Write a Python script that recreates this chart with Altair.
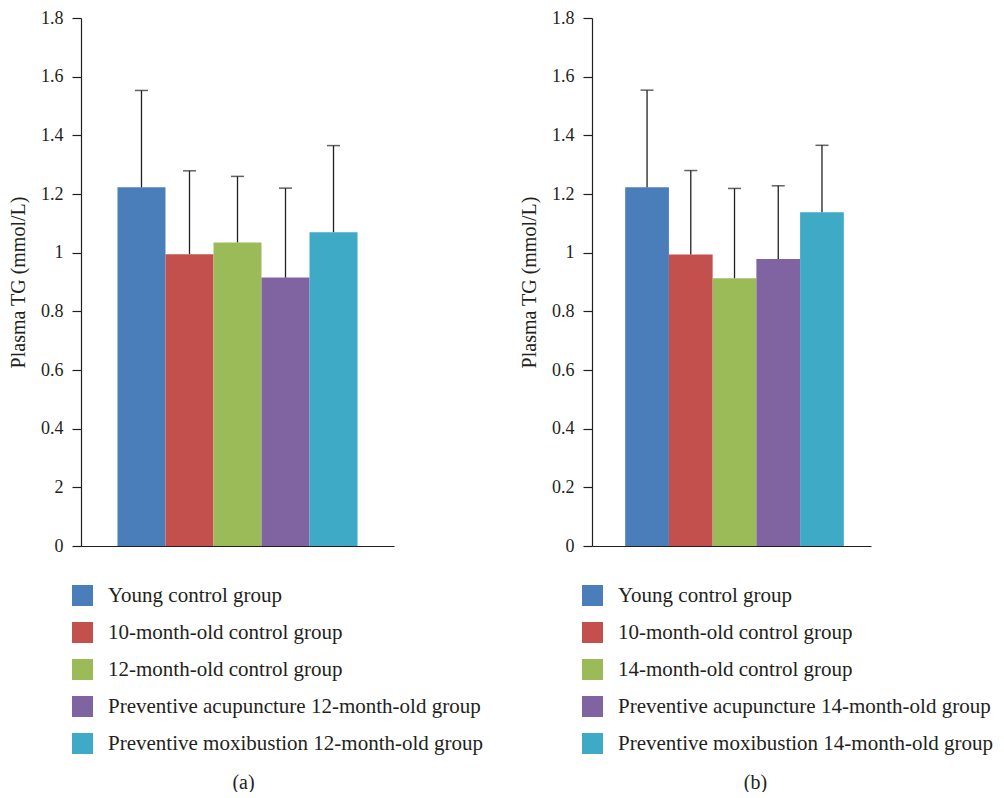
import altair as alt
import pandas as pd

groups_a = ["Young control group", "10-month-old control group", "12-month-old control group",
            "Preventive acupuncture 12-month-old group", "Preventive moxibustion 12-month-old group"]
means_a = [1.223, 0.995, 1.035, 0.915, 1.070]
upper_a = [1.553, 1.279, 1.260, 1.220, 1.365]

groups_b = ["Young control group ", "10-month-old control group ", "14-month-old control group",
            "Preventive acupuncture 14-month-old group", "Preventive moxibustion 14-month-old group"]
means_b = [1.223, 0.994, 0.913, 0.978, 1.138]
upper_b = [1.554, 1.280, 1.219, 1.228, 1.366]

colors = ["#4a7ebb", "#c4504e", "#9bbb59", "#8064a2", "#3eaac6"]
y_ticks = [0, 0.2, 0.4, 0.6, 0.8, 1.0, 1.2, 1.4, 1.6, 1.8]
tick_labels_a = ["0", "2", "0.4", "0.6", "0.8", "1", "1.2", "1.4", "1.6", "1.8"]
tick_labels_b = ["0", "0.2", "0.4", "0.6", "0.8", "1", "1.2", "1.4", "1.6", "1.8"]

FONT = "Liberation Serif"
INK = "#231f20"


def panel(groups, means, uppers, tick_labels, caption, width, pad_outer, align, legend_x, title_x):
    df = pd.DataFrame({"group": groups, "mean": means, "upper": uppers})
    arr = "[" + ",".join("'" + t + "'" for t in tick_labels) + "]"
    label_expr = arr + "[round(datum.value*5)]"
    xenc = alt.X("group:N", sort=groups,
                 scale=alt.Scale(paddingInner=0, paddingOuter=pad_outer, align=align),
                 axis=alt.Axis(labels=False, ticks=False, title=caption, titlePadding=226,
                               titleFont=FONT, titleFontSize=20, titleFontWeight="normal",
                               titleColor=INK, domainColor=INK, domainWidth=1.2, titleX=title_x))
    yenc = alt.Y("mean:Q", scale=alt.Scale(domain=[0, 1.8], nice=False),
                 axis=alt.Axis(values=y_ticks, labelExpr=label_expr, title="Plasma TG (mmol/L)",
                               grid=False, tickSize=9, tickColor=INK, domainColor=INK,
                               domainWidth=1.2, tickWidth=1.2, labelFont=FONT, labelFontSize=18,
                               labelColor=INK, labelPadding=9, titleFont=FONT, titleFontSize=20,
                               titleFontWeight="normal", titleColor=INK, titlePadding=12))
    bars = alt.Chart(df).mark_bar().encode(
        x=xenc, y=yenc,
        color=alt.Color("group:N", sort=groups,
                        scale=alt.Scale(domain=groups, range=colors),
                        legend=alt.Legend(orient="none", legendX=legend_x, legendY=567, title=None,
                                          symbolType="square", symbolSize=441, symbolStrokeWidth=0,
                                          symbolOpacity=1, labelFont=FONT, labelFontSize=21,
                                          labelColor=INK, labelLimit=600, rowPadding=15,
                                          labelOffset=15, padding=0)))
    rules = alt.Chart(df).mark_rule(color=INK, strokeWidth=1.3).encode(
        x=alt.X("group:N", sort=groups), y="mean:Q", y2="upper:Q")
    caps = alt.Chart(df).mark_tick(color=INK, size=13, thickness=1.5).encode(
        x=alt.X("group:N", sort=groups), y="upper:Q")
    return alt.layer(bars, rules, caps).properties(width=width, height=528)


pa = panel(groups_a, means_a, upper_a, tick_labels_a, "(a)", 313, 0.76, 0.5, -9, 162)
pb = panel(groups_b, means_b, upper_b, tick_labels_b, "(b)", 279, 0.69, 0.55, -10, 163)

chart = alt.hconcat(pa, pb, spacing=35).resolve_scale(
    color="independent", x="independent", y="independent"
).properties(padding={"left": 0, "top": 1, "right": 0, "bottom": 0}).configure_view(stroke=None)

chart.save("out.html", embed_options={"renderer": "svg", "actions": False})
